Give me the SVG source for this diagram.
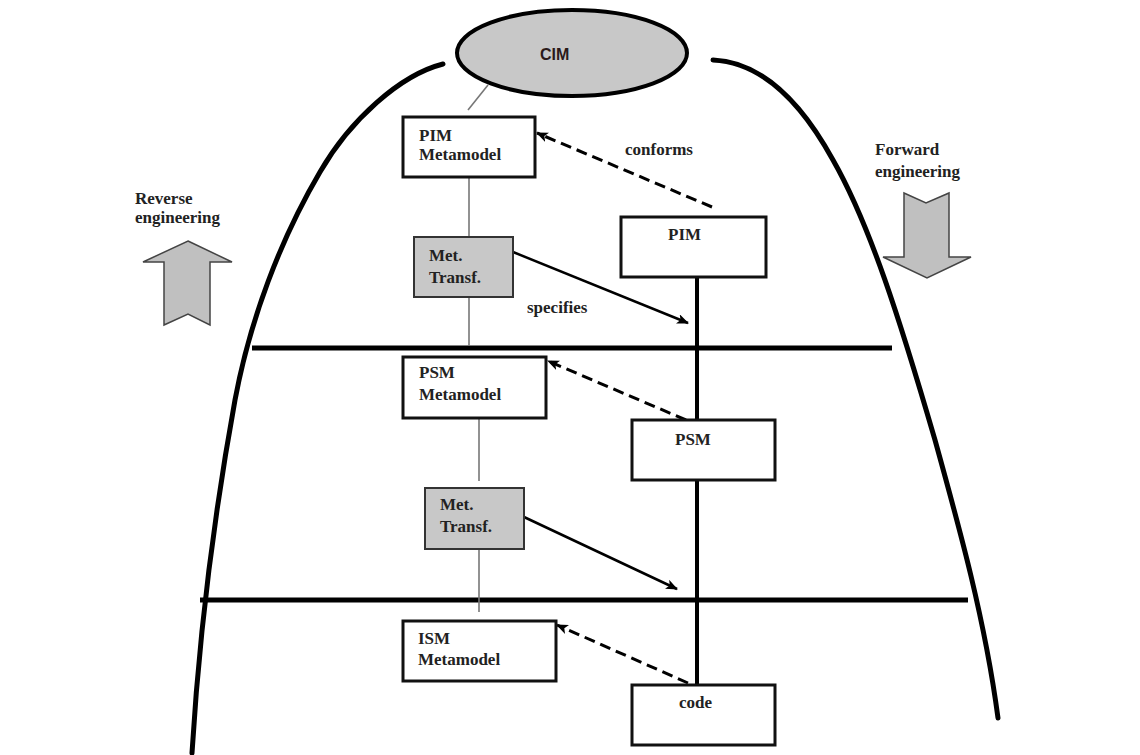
<svg xmlns="http://www.w3.org/2000/svg" width="1140" height="755" viewBox="0 0 1140 755">
<style>
  .t { font-family: "Liberation Serif", "Times New Roman", serif; font-weight: bold; font-size: 17px; fill: #222; }
  .box { fill: #ffffff; stroke: #111; stroke-width: 3; }
  .gbox { fill: #c8c8c8; stroke: #333; stroke-width: 2; }
  .thin { stroke: #777; stroke-width: 1.6; fill: none; }
  .heavy { stroke: #000; stroke-width: 5; fill: none; }
  .vert { stroke: #000; stroke-width: 4; fill: none; }
  .curve { stroke: #000; stroke-width: 5; fill: none; stroke-linecap: round; }
  .solid { stroke: #000; stroke-width: 2.5; fill: none; marker-end: url(#ah); }
  .dash { stroke: #000; stroke-width: 3; fill: none; stroke-dasharray: 11 6; marker-end: url(#ah); }
  .big { fill: #c0c0c0; stroke: #444; stroke-width: 1.5; }
</style>
<defs>
  <marker id="ah" viewBox="0 0 12 10" refX="11" refY="5" markerWidth="12" markerHeight="10" markerUnits="userSpaceOnUse" orient="auto">
    <path d="M0,0 L12,5 L0,10 L3,5 Z" fill="#000"/>
  </marker>
</defs>
<rect width="1140" height="755" fill="#ffffff"/>

<g id="boundary">
  <path class="curve" d="M443,64 C400,75 350,120 320,172 C280,240 250,320 235,400 C215,510 200,620 192,753"/>
  <path class="curve" d="M713,60 C760,62 800,100 833,160 C870,225 900,320 935,440 C960,530 985,620 998,718"/>
  <line class="heavy" x1="252" y1="348" x2="892" y2="348"/>
  <line class="heavy" x1="200" y1="600" x2="968" y2="600"/>
</g>

<g id="connectors">
  <line class="thin" x1="488" y1="85" x2="468" y2="110"/>
  <line class="thin" x1="469" y1="177" x2="469" y2="237"/>
  <line class="thin" x1="469" y1="297" x2="469" y2="346"/>
  <line class="thin" x1="479" y1="418" x2="479" y2="481"/>
  <line class="thin" x1="479" y1="549" x2="479" y2="612"/>
  <line class="vert" x1="697" y1="277" x2="697" y2="420"/>
  <line class="vert" x1="697" y1="480" x2="697" y2="685"/>
  <line class="solid" x1="513" y1="252" x2="688" y2="323"/>
  <line class="solid" x1="524" y1="517" x2="677" y2="589"/>
  <line class="dash" x1="712" y1="207" x2="537" y2="133"/>
  <line class="dash" x1="686" y1="420" x2="548" y2="361"/>
  <line class="dash" x1="688" y1="683" x2="557" y2="625"/>
  <text class="t" x="625" y="155">conforms</text>
  <text class="t" x="527" y="313">specifies</text>
</g>

<g id="cim">
  <ellipse cx="572" cy="53" rx="115" ry="43" fill="#c8c8c8" stroke="#000" stroke-width="4"/>
  <text x="540" y="60" font-family="Liberation Sans, Arial, sans-serif" font-weight="bold" font-size="16" fill="#2a1a1a">CIM</text>
</g>

<g id="pim-metamodel">
  <rect class="box" x="403" y="117" width="132" height="60"/>
  <text class="t" x="419" y="141">PIM</text>
  <text class="t" x="419" y="160">Metamodel</text>
</g>

<g id="met-transf-1">
  <rect class="gbox" x="414" y="237" width="99" height="60"/>
  <text class="t" x="429" y="261">Met.</text>
  <text class="t" x="429" y="283">Transf.</text>
</g>

<g id="pim">
  <rect class="box" x="621" y="217" width="145" height="60"/>
  <text class="t" x="668" y="240">PIM</text>
</g>

<g id="psm-metamodel">
  <rect class="box" x="403" y="357" width="143" height="61"/>
  <text class="t" x="419" y="378">PSM</text>
  <text class="t" x="419" y="400">Metamodel</text>
</g>

<g id="psm">
  <rect class="box" x="632" y="420" width="143" height="60"/>
  <text class="t" x="675" y="445">PSM</text>
</g>

<g id="met-transf-2">
  <rect class="gbox" x="425" y="488" width="99" height="61"/>
  <text class="t" x="440" y="510">Met.</text>
  <text class="t" x="440" y="532">Transf.</text>
</g>

<g id="ism-metamodel">
  <rect class="box" x="403" y="621" width="153" height="60"/>
  <text class="t" x="418" y="644">ISM</text>
  <text class="t" x="418" y="665">Metamodel</text>
</g>

<g id="code">
  <rect class="box" x="632" y="685" width="143" height="60"/>
  <text class="t" x="679" y="708">code</text>
</g>

<g id="reverse-engineering">
  <text class="t" x="135" y="204">Reverse</text>
  <text class="t" x="135" y="223">engineering</text>
  <polygon class="big" points="188,241 232,262 210,262 210,325 188,314 164,325 164,262 143,262"/>
</g>

<g id="forward-engineering">
  <text class="t" x="875" y="155">Forward</text>
  <text class="t" x="875" y="177">engineering</text>
  <polygon class="big" points="904,193 926,203 949,193 949,257 971,257 927,278 883,257 904,257"/>
</g>
</svg>
